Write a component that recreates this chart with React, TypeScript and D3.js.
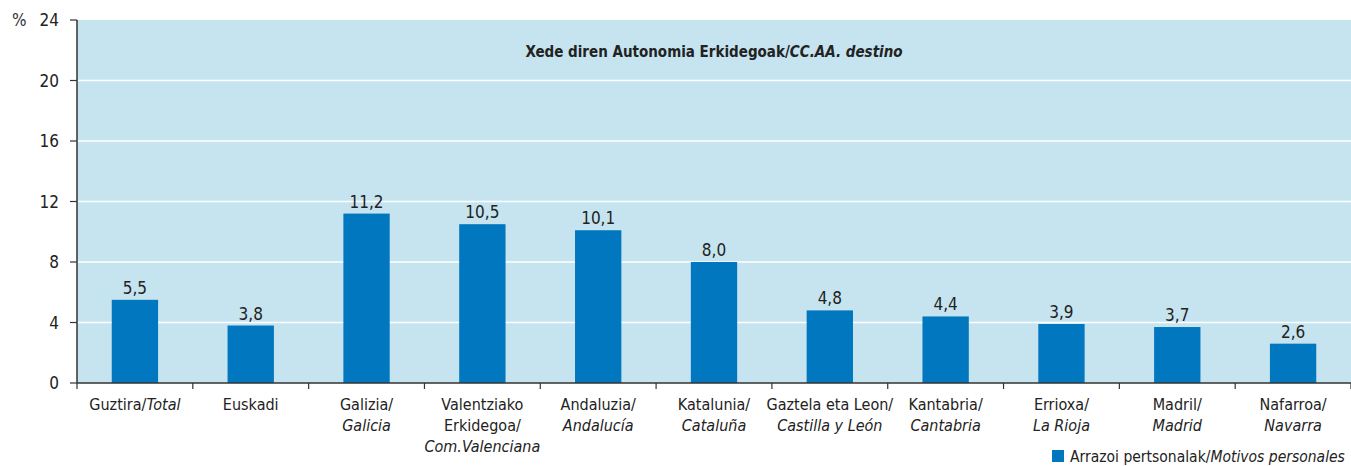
import React from 'react';
import * as d3 from 'd3';

const categories = [
  'Guztira/Total',
  'Euskadi',
  'Galizia/Galicia',
  'Valentziako Erkidegoa/Com.Valenciana',
  'Andaluzia/Andalucía',
  'Katalunia/Cataluña',
  'Gaztela eta Leon/Castilla y León',
  'Kantabria/Cantabria',
  'Errioxa/La Rioja',
  'Madril/Madrid',
  'Nafarroa/Navarra',
];

// label lines per category, each line is a list of [text, italic] pieces
const labelLines: [string, boolean][][][] = [
  [[['Guztira/', false], ['Total', true]]],
  [[['Euskadi', false]]],
  [[['Galizia/', false]], [['Galicia', true]]],
  [[['Valentziako', false]], [['Erkidegoa/', false]], [['Com.Valenciana', true]]],
  [[['Andaluzia/', false]], [['Andalucía', true]]],
  [[['Katalunia/', false]], [['Cataluña', true]]],
  [[['Gaztela eta Leon/', false]], [['Castilla y León', true]]],
  [[['Kantabria/', false]], [['Cantabria', true]]],
  [[['Errioxa/', false]], [['La Rioja', true]]],
  [[['Madril/', false]], [['Madrid', true]]],
  [[['Nafarroa/', false]], [['Navarra', true]]],
];

const values = [5.5, 3.8, 11.2, 10.5, 10.1, 8.0, 4.8, 4.4, 3.9, 3.7, 2.6];

const yTicks = [0, 4, 8, 12, 16, 20, 24];

const width = 1351;
const height = 466;
const margin = { top: 20, right: 0, bottom: 83, left: 77 };

const font = "'Liberation Sans Narrow', 'DejaVu Sans Condensed', sans-serif";

export default function App() {
  const x = d3
    .scaleBand<string>()
    .domain(categories)
    .range([margin.left, width - margin.right])
    .paddingInner(0.6)
    .paddingOuter(0.3);
  const step = x.step();
  const y = d3
    .scaleLinear()
    .domain([0, 24])
    .range([height - margin.bottom, margin.top]);

  const bandLeft = (c: string) => margin.left + categories.indexOf(c) * step;
  const y0 = y(0);

  return (
    <svg
      width={width}
      height={height}
      style={{ position: 'absolute', left: 0, top: 0, fontFamily: font }}
    >
      <rect
        x={margin.left}
        y={margin.top}
        width={width - margin.left - margin.right}
        height={y0 - margin.top}
        fill="#c5e4ef"
      />
      {yTicks.slice(1, -1).map(t => (
        <line
          key={t}
          x1={margin.left}
          x2={width - margin.right}
          y1={y(t)}
          y2={y(t)}
          stroke="#ffffff"
          strokeWidth={1.5}
        />
      ))}
      <text
        x={(margin.left + width - margin.right) / 2}
        y={57}
        textAnchor="middle"
        fontSize={15}
        fontWeight="bold"
        fill="#222"
      >
        Xede diren Autonomia Erkidegoak/<tspan fontStyle="italic">CC.AA. destino</tspan>
      </text>

      {categories.map((c, i) => (
        <g key={c}>
          <rect
            x={x(c)}
            y={y(values[i])}
            width={x.bandwidth()}
            height={y0 - y(values[i])}
            fill="#0077bf"
          />
          <text
            x={(x(c) ?? 0) + x.bandwidth() / 2}
            y={y(values[i]) - 6}
            textAnchor="middle"
            fontSize={17}
            fill="#222"
          >
            {values[i].toFixed(1).replace('.', ',')}
          </text>
          {labelLines[i].map((line, j) => (
            <text
              key={j}
              x={bandLeft(c) + step / 2}
              y={y0 + 27 + j * 21}
              textAnchor="middle"
              fontSize={16}
              fill="#222"
            >
              {line.map(([txt, it], k) => (
                <tspan key={k} fontStyle={it ? 'italic' : 'normal'}>
                  {txt}
                </tspan>
              ))}
            </text>
          ))}
        </g>
      ))}

      {/* axes */}
      <line x1={margin.left} x2={margin.left} y1={margin.top} y2={y0} stroke="#333" strokeWidth={1.5} />
      <line x1={margin.left} x2={width - margin.right} y1={y0} y2={y0} stroke="#333" strokeWidth={1.5} />
      {yTicks.map(t => (
        <g key={t}>
          <line x1={margin.left - 7} x2={margin.left} y1={y(t)} y2={y(t)} stroke="#333" strokeWidth={1.2} />
          <text x={margin.left - 18} y={y(t) + 6} textAnchor="end" fontSize={17} fill="#222">
            {t}
          </text>
        </g>
      ))}
      {d3.range(categories.length + 1).map(i => (
        <line
          key={i}
          x1={margin.left + i * step}
          x2={margin.left + i * step}
          y1={y0}
          y2={y0 + 6}
          stroke="#333"
          strokeWidth={1.2}
        />
      ))}
      <text x={12} y={26} fontSize={17} fill="#333">
        %
      </text>

      {/* legend */}
      <rect x={1052} y={450} width={12} height={12} fill="#0077bf" />
      <text x={1070} y={462} fontSize={15.5} fill="#222">
        Arrazoi pertsonalak/<tspan fontStyle="italic">Motivos personales</tspan>
      </text>
    </svg>
  );
}
